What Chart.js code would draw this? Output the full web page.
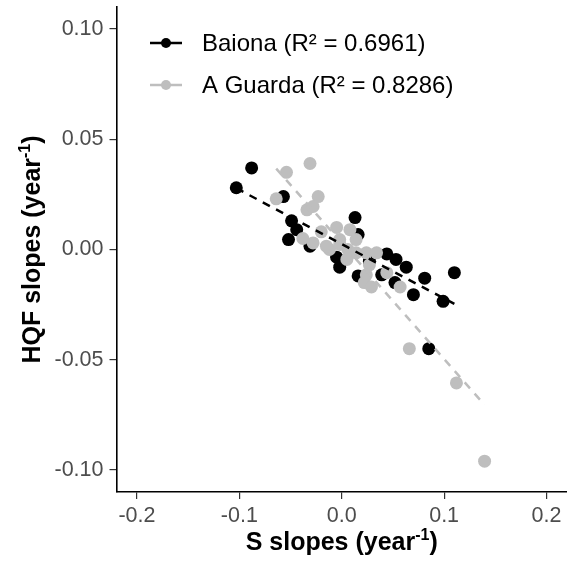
<!DOCTYPE html>
<html>
<head>
<meta charset="utf-8">
<script src="https://cdn.jsdelivr.net/npm/chart.js@4.4.1/dist/chart.umd.min.js"></script>
<style>
  html, body { margin: 0; padding: 0; background: #fff; }
  #wrap { width: 567px; height: 564px; position: relative; }
</style>
</head>
<body>
<div id="wrap"><canvas id="slopesChart"></canvas></div>
<script>
// S slopes (x) vs HQF slopes (y)
var baionaX = [-0.103, -0.088, -0.057, -0.049, -0.044, -0.052, 0.013, -0.002, 0.016, 0.044, 0.053, 0.063,
	0.081, 0.110, 0.052, 0.070, 0.099, 0.085, 0.039, -0.031, -0.005, 0.016, 0.027];
var baionaY = [0.028, 0.037, 0.024, 0.013, 0.009, 0.0045, 0.0145, -0.008, -0.012, -0.002, -0.0045, -0.008,
	-0.013, -0.0105, -0.015, -0.0205, -0.0235, -0.045, -0.0115, 0.0015, -0.0035, 0.0068, -0.0053];

var guardaX = [-0.031, -0.054, -0.064, -0.023, -0.034, -0.028, -0.038, -0.028, -0.020, -0.005, 0.008, -0.012,
	-0.002, 0.014, 0.024, 0.034, 0.005, 0.027, 0.044, 0.057, 0.022, 0.029, -0.015, 0.066, 0.112, 0.1395,
	0.006, 0.014, 0.024, -0.002];
var guardaY = [0.039, 0.035, 0.023, 0.024, 0.018, 0.0195, 0.005, 0.003, 0.008, 0.010, 0.009, 0.000,
	0.0045, 0.0045, -0.0015, -0.0015, -0.0045, -0.007, -0.0105, -0.017, -0.015, -0.017, 0.0015, -0.045, -0.0605, -0.096,
	0.000, -0.0015, -0.0115, 0.0023];

// fitted lines (ends of the dashed lm lines)
var baionaFitX = [-0.103, 0.110];
var baionaFitY = [0.0278, -0.0247];
var guardaFitX = [-0.064, 0.1395];
var guardaFitY = [0.0367, -0.0705];

var seriesLabels = ["Baiona (R\u00B2 = 0.6961)", "A Guarda (R\u00B2 = 0.8286)"];
var seriesColors = ["#000000", "#bebebe"];
var xTicks = [-0.2, -0.1, 0.0, 0.1, 0.2];
var yTicks = [-0.10, -0.05, 0.00, 0.05, 0.10];

var FONT = "'Liberation Sans', Arial, sans-serif";

function toPoints(xs, ys) {
	var pts = [];
	for (var i = 0; i < xs.length; i++) {
		pts.push({x: xs[i], y: ys[i]});
	}
	return pts;
}

// axis titles with a superscript, and the legend in the top-left corner
var annotations = {
	id: 'annotations',
	afterDraw: function(chart) {
		var ctx = chart.ctx;
		var area = chart.chartArea;
		ctx.save();
		ctx.fillStyle = '#000';

		drawSupTitle(ctx, (area.left + area.right) / 2, 550, "S slopes (year", "-1", ")");

		ctx.save();
		ctx.translate(40, (area.top + area.bottom) / 2);
		ctx.rotate(-Math.PI / 2);
		drawSupTitle(ctx, 0, 0, "HQF slopes (year", "-1", ")");
		ctx.restore();

		// legend
		var rows = [43, 85];
		for (var i = 0; i < seriesLabels.length; i++) {
			var y = rows[i];
			ctx.strokeStyle = seriesColors[i];
			ctx.lineWidth = 2.5;
			ctx.beginPath();
			ctx.moveTo(150, y);
			ctx.lineTo(182, y);
			ctx.stroke();
			ctx.fillStyle = seriesColors[i];
			ctx.beginPath();
			ctx.arc(166, y, 5, 0, Math.PI * 2);
			ctx.fill();
			ctx.fillStyle = '#000';
			ctx.font = "24px " + FONT;
			ctx.textAlign = 'left';
			ctx.textBaseline = 'middle';
			ctx.fillText(seriesLabels[i], 202, y + 1);
		}
		ctx.restore();
	}
};

function drawSupTitle(ctx, cx, baseline, main, sup, tail) {
	var bigFont = "bold 25px " + FONT;
	var smallFont = "bold 16px " + FONT;
	ctx.textBaseline = 'alphabetic';
	ctx.textAlign = 'left';
	ctx.font = bigFont;
	var w1 = ctx.measureText(main).width;
	var w3 = ctx.measureText(tail).width;
	ctx.font = smallFont;
	var w2 = ctx.measureText(sup).width;
	var x = cx - (w1 + w2 + w3) / 2;
	ctx.font = bigFont;
	ctx.fillText(main, x, baseline);
	ctx.font = smallFont;
	ctx.fillText(sup, x + w1, baseline - 10);
	ctx.font = bigFont;
	ctx.fillText(tail, x + w1 + w2, baseline);
}

var datasets = [
	{
		label: 'Baiona fit',
		type: 'line',
		data: toPoints(baionaFitX, baionaFitY),
		borderColor: seriesColors[0],
		borderWidth: 2.5,
		borderDash: [8, 7],
		pointRadius: 0,
		fill: false
	},
	{
		label: 'A Guarda fit',
		type: 'line',
		data: toPoints(guardaFitX, guardaFitY),
		borderColor: seriesColors[1],
		borderWidth: 2.5,
		borderDash: [8, 7],
		pointRadius: 0,
		fill: false
	},
	{
		label: seriesLabels[1],
		data: toPoints(guardaX, guardaY),
		backgroundColor: seriesColors[1],
		borderWidth: 0,
		pointRadius: 6.5
	},
	{
		label: seriesLabels[0],
		data: toPoints(baionaX, baionaY),
		backgroundColor: seriesColors[0],
		borderWidth: 0,
		pointRadius: 6.5
	}
];

var axisBase = {
	type: 'linear',
	border: {display: true, color: '#000', width: 1.6},
	grid: {display: true, drawOnChartArea: false, drawTicks: true, tickLength: 7, color: '#333', lineWidth: 1.2}
};

var myChart = new Chart(document.getElementById('slopesChart'), {
	type: 'scatter',
	data: {datasets: datasets},
	plugins: [annotations],
	options: {
		responsive: true,
		maintainAspectRatio: false,
		animation: false,
		layout: {autoPadding: false, padding: {top: 7, right: 0, left: 0, bottom: 0}},
		plugins: {
			legend: {display: false},
			tooltip: {enabled: false}
		},
		scales: {
			x: Object.assign({}, axisBase, {
				min: -0.22,
				max: 0.22,
				afterBuildTicks: function(scale) {
					scale.ticks = xTicks.map(function(v) { return {value: v}; });
				},
				afterFit: function(scale) {
					scale.height = 72;
					scale.paddingLeft = 0;
					scale.paddingRight = 0;
				},
				ticks: {
					color: '#4d4d4d',
					padding: 4,
					font: {family: FONT, size: 21.5},
					maxRotation: 0,
					callback: function(v) { return v.toFixed(1); }
				}
			}),
			y: Object.assign({}, axisBase, {
				min: -0.11,
				max: 0.11,
				afterBuildTicks: function(scale) {
					scale.ticks = yTicks.map(function(v) { return {value: v}; });
				},
				afterFit: function(scale) {
					scale.width = 116.5;
					scale.paddingTop = 0;
					scale.paddingBottom = 0;
				},
				ticks: {
					color: '#4d4d4d',
					padding: 6,
					font: {family: FONT, size: 21.5},
					callback: function(v) { return v.toFixed(2); }
				}
			})
		}
	}
});
</script>
</body>
</html>
